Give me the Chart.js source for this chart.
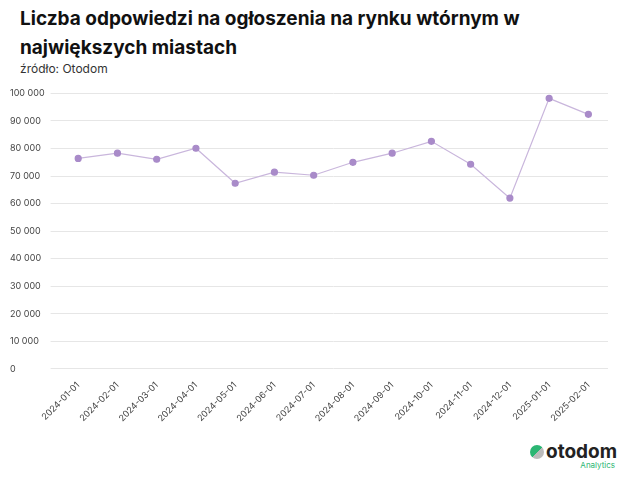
<!DOCTYPE html>
<html><head><meta charset="utf-8">
<script src="https://cdn.jsdelivr.net/npm/chart.js@4"></script>
<style>
body{margin:0;background:#fff;font-family:Inter,"Noto Sans",sans-serif;}
#wrap{position:relative;width:640px;height:478px;}
h1{position:absolute;left:20px;top:4px;margin:0;font-size:19px;line-height:29px;font-weight:700;color:#111;width:560px;}
#src{position:absolute;left:20px;top:61px;font-size:12px;color:#333;}
#cv{position:absolute;left:10px;top:85px;}
#logo{position:absolute;left:530px;top:440px;font-weight:700;font-size:19px;color:#222;}
#logo small{position:absolute;right:2px;top:20px;font-size:8px;font-weight:400;color:#2bb673;}
#dot{display:inline-block;width:14px;height:14px;border-radius:7px;background:linear-gradient(135deg,#2bb673 50%,#bbb 50%);margin-right:2px;vertical-align:-1px;}
</style></head><body>
<div id="wrap">
<h1>Liczba odpowiedzi na ogłoszenia na rynku wtórnym w największych miastach</h1>
<div id="src">źródło: Otodom</div>
<canvas id="cv" width="610" height="342"></canvas>
<div id="logo"><span id="dot"></span>otodom<small>Analytics</small></div>
</div>
<script>
var labels = ['2024-01-01','2024-02-01','2024-03-01','2024-04-01','2024-05-01','2024-06-01','2024-07-01','2024-08-01','2024-09-01','2024-10-01','2024-11-01','2024-12-01','2025-01-01','2025-02-01'];
var values = [76400,78300,76100,80100,67400,71400,70300,75000,78300,82600,74300,62000,98200,92400];
var cv = document.getElementById('cv');
cv.style.width='610px';cv.style.height='342px';
new Chart(cv, {
  type: 'line',
  data: { labels: labels, datasets: [{ data: values, borderColor: '#c9b6dc', borderWidth: 1.2,
    pointBackgroundColor: '#a98bc9', pointBorderColor: '#a98bc9', pointRadius: 3, tension: 0 }] },
  options: {
    responsive: false, animation: false,
    layout: { padding: { right: 12 } },
    plugins: { legend: { display: false }, tooltip: { enabled: false } },
    scales: {
      x: { offset: true, grid: { display: false }, border: { display: false },
        ticks: { maxRotation: 45, minRotation: 45, font: { size: 9, family: 'Inter' }, color: '#444' } },
      y: { min: 0, max: 100000, grid: { color: '#e6e6e6' }, border: { display: false },
        ticks: { stepSize: 10000, font: { size: 9, family: 'Inter' }, color: '#444', crossAlign: 'far',
          callback: function (v) { return v === 0 ? '0' : String(v).replace(/\B(?=(\d{3})+$)/g, ' '); } } }
    }
  }
});
</script>
</body></html>
